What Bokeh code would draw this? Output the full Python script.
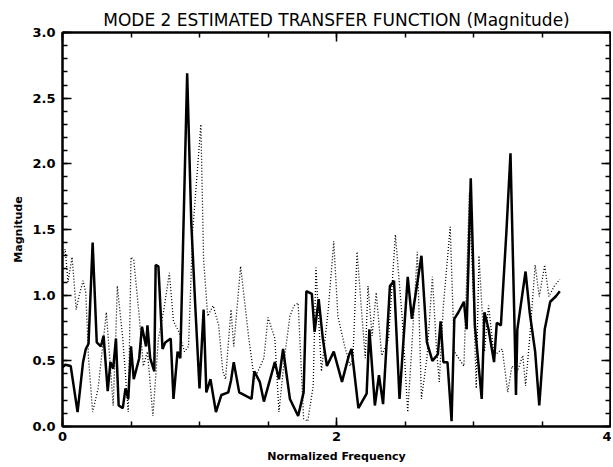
from bokeh.plotting import figure
from bokeh.models import Range1d, LinearAxis, SingleIntervalTicker, NumeralTickFormatter, CustomJSTickFormatter
from bokeh.embed import file_html
from bokeh.resources import INLINE

# ---- data ----
solid_x = [0.00, 0.02, 0.06, 0.11, 0.15, 0.17, 0.19, 0.22, 0.25, 0.28, 0.30, 0.33, 0.35, 0.37,
           0.39, 0.41, 0.44, 0.46, 0.48, 0.50, 0.52, 0.56, 0.58, 0.61, 0.62, 0.64, 0.67, 0.68,
           0.70, 0.73, 0.75, 0.79, 0.81, 0.84, 0.86, 0.91, 0.94, 0.97, 1.00, 1.03, 1.05, 1.08,
           1.12, 1.16, 1.21, 1.23, 1.25, 1.29, 1.38, 1.40, 1.44, 1.47, 1.55, 1.58, 1.61, 1.66,
           1.72, 1.76, 1.78, 1.82, 1.84, 1.87, 1.90, 1.93, 1.98, 2.04, 2.09, 2.11, 2.16, 2.22,
           2.24, 2.28, 2.31, 2.34, 2.39, 2.42, 2.46, 2.52, 2.55, 2.62, 2.66, 2.70, 2.74, 2.76,
           2.78, 2.81, 2.84, 2.86, 2.89, 2.93, 2.95, 2.98, 3.01, 3.06, 3.08, 3.11, 3.15, 3.17,
           3.20, 3.24, 3.27, 3.30, 3.31, 3.32, 3.38, 3.41, 3.45, 3.48, 3.52, 3.56, 3.60, 3.63]
solid_y = [0.45, 0.47, 0.46, 0.11, 0.49, 0.59, 0.63, 1.40, 0.64, 0.61, 0.69, 0.27, 0.49, 0.44,
           0.67, 0.16, 0.14, 0.29, 0.21, 0.61, 0.36, 0.52, 0.76, 0.61, 0.77, 0.52, 0.42, 1.23,
           1.22, 0.59, 0.64, 0.67, 0.21, 0.57, 0.52, 2.69, 1.55, 0.90, 0.29, 0.89, 0.26, 0.36,
           0.11, 0.24, 0.26, 0.35, 0.49, 0.26, 0.21, 0.42, 0.34, 0.19, 0.49, 0.36, 0.59, 0.21,
           0.08, 0.26, 1.03, 1.01, 0.72, 0.97, 0.67, 0.46, 0.57, 0.34, 0.54, 0.59, 0.14, 0.25,
           0.74, 0.16, 0.39, 0.17, 1.07, 1.11, 0.21, 1.14, 0.82, 1.30, 0.64, 0.50, 0.55, 0.80,
           0.49, 0.49, 0.04, 0.82, 0.87, 0.95, 0.74, 1.89, 0.77, 0.21, 0.87, 0.74, 0.49, 0.79,
           0.77, 1.48, 2.08, 0.74, 0.24, 0.74, 1.18, 0.87, 0.57, 0.16, 0.74, 0.95, 0.99, 1.03]

dot_x = [0.00, 0.02, 0.04, 0.07, 0.10, 0.12, 0.15, 0.17, 0.19, 0.22, 0.26, 0.32, 0.37, 0.39,
         0.40, 0.44, 0.48, 0.50, 0.52, 0.56, 0.59, 0.62, 0.66, 0.70, 0.74, 0.78, 0.81, 0.85,
         0.89, 0.92, 0.95, 1.01, 1.03, 1.06, 1.10, 1.14, 1.17, 1.19, 1.23, 1.25, 1.30, 1.36,
         1.40, 1.47, 1.50, 1.55, 1.58, 1.62, 1.66, 1.69, 1.72, 1.76, 1.79, 1.83, 1.85, 1.89,
         1.94, 1.98, 2.01, 2.06, 2.10, 2.12, 2.15, 2.18, 2.21, 2.23, 2.26, 2.29, 2.33, 2.38,
         2.43, 2.48, 2.52, 2.55, 2.59, 2.62, 2.66, 2.70, 2.73, 2.75, 2.78, 2.83, 2.86, 2.93,
         2.97, 3.00, 3.02, 3.04, 3.08, 3.11, 3.15, 3.21, 3.25, 3.28, 3.32, 3.36, 3.38, 3.41,
         3.45, 3.48, 3.52, 3.55, 3.59, 3.63]
dot_y = [1.30, 1.35, 1.10, 1.29, 0.89, 0.99, 1.11, 1.02, 0.52, 0.11, 0.29, 0.87, 0.16, 0.72,
         1.07, 0.67, 0.11, 1.29, 1.27, 0.84, 0.46, 0.57, 0.08, 0.67, 0.89, 1.17, 0.80, 0.72,
         0.57, 0.61, 1.48, 2.30, 1.27, 0.84, 0.92, 0.77, 0.42, 0.36, 0.89, 0.61, 1.22, 0.67,
         0.36, 0.52, 0.83, 0.67, 0.11, 0.52, 0.84, 0.92, 0.94, 0.06, 0.04, 0.31, 1.21, 0.42,
         0.89, 1.41, 0.84, 0.61, 0.46, 0.52, 1.33, 0.92, 0.52, 1.07, 0.69, 1.02, 0.54, 0.67,
         1.46, 0.82, 0.11, 0.61, 1.33, 0.21, 0.52, 1.14, 0.59, 0.34, 0.92, 1.52, 0.57, 0.46,
         1.78, 0.97, 0.29, 1.30, 0.57, 0.92, 0.54, 0.59, 0.26, 0.46, 0.42, 0.54, 0.31, 0.67,
         1.23, 0.99, 1.23, 0.99, 1.07, 1.12]

title_text = "MODE 2 ESTIMATED TRANSFER FUNCTION (Magnitude)"
x_label = "Normalized Frequency"
y_label = "Magnitude"

FONT = "DejaVu Sans"

p = figure(width=611, height=465, output_backend="svg", toolbar_location=None,
           x_range=Range1d(0, 4), y_range=Range1d(0, 3),
           min_border_left=62, min_border_right=1, min_border_top=32, min_border_bottom=37,
           x_axis_location=None, y_axis_location=None)

p.title.text = title_text
p.title.align = "center"
p.title.text_font = FONT
p.title.text_font_style = "normal"
p.title.text_font_size = "17px"
p.title.text_color = "black"
p.title.standoff = 5

p.grid.visible = False
p.outline_line_color = "black"
p.outline_line_width = 2
p.background_fill_color = "white"
p.border_fill_color = "white"

empty_fmt = CustomJSTickFormatter(code="return '';")


def style_axis(ax, show_labels):
    ax.axis_line_color = "black"
    ax.axis_line_width = 2
    ax.major_tick_in = 9
    ax.major_tick_out = 0
    ax.minor_tick_in = 5
    ax.minor_tick_out = 0
    ax.major_tick_line_color = "black"
    ax.major_tick_line_width = 1.5
    ax.minor_tick_line_color = "black"
    ax.minor_tick_line_width = 1.5
    ax.major_label_text_font = FONT
    ax.major_label_text_font_style = "bold"
    ax.major_label_text_color = "black"
    ax.major_label_text_font_size = "13px"
    if not show_labels:
        ax.major_label_standoff = 0
    ax.axis_label_text_font = FONT
    ax.axis_label_text_font_style = "bold"
    ax.axis_label_text_font_size = "11px"
    ax.axis_label_text_color = "black"


def xt():
    return SingleIntervalTicker(interval=2, num_minor_ticks=4)


def yt():
    return SingleIntervalTicker(interval=0.5, num_minor_ticks=5)


xb = LinearAxis(ticker=xt(), formatter=NumeralTickFormatter(format="0"), axis_label=x_label)
style_axis(xb, True)
xb.major_label_standoff = 5
xb.axis_label_standoff = 6
p.add_layout(xb, "below")

yl = LinearAxis(ticker=yt(), formatter=NumeralTickFormatter(format="0.0"), axis_label=y_label)
style_axis(yl, True)
yl.major_label_standoff = 7
yl.axis_label_standoff = 4
p.add_layout(yl, "left")

xa = LinearAxis(ticker=xt(), formatter=empty_fmt)
style_axis(xa, False)
p.add_layout(xa, "above")

yr = LinearAxis(ticker=yt(), formatter=empty_fmt)
style_axis(yr, False)
p.add_layout(yr, "right")

p.line(dot_x, dot_y, line_color="black", line_width=1.3, line_dash="1 2")
p.line(solid_x, solid_y, line_color="black", line_width=2.5)

open("out.html", "w").write(file_html(p, INLINE))
